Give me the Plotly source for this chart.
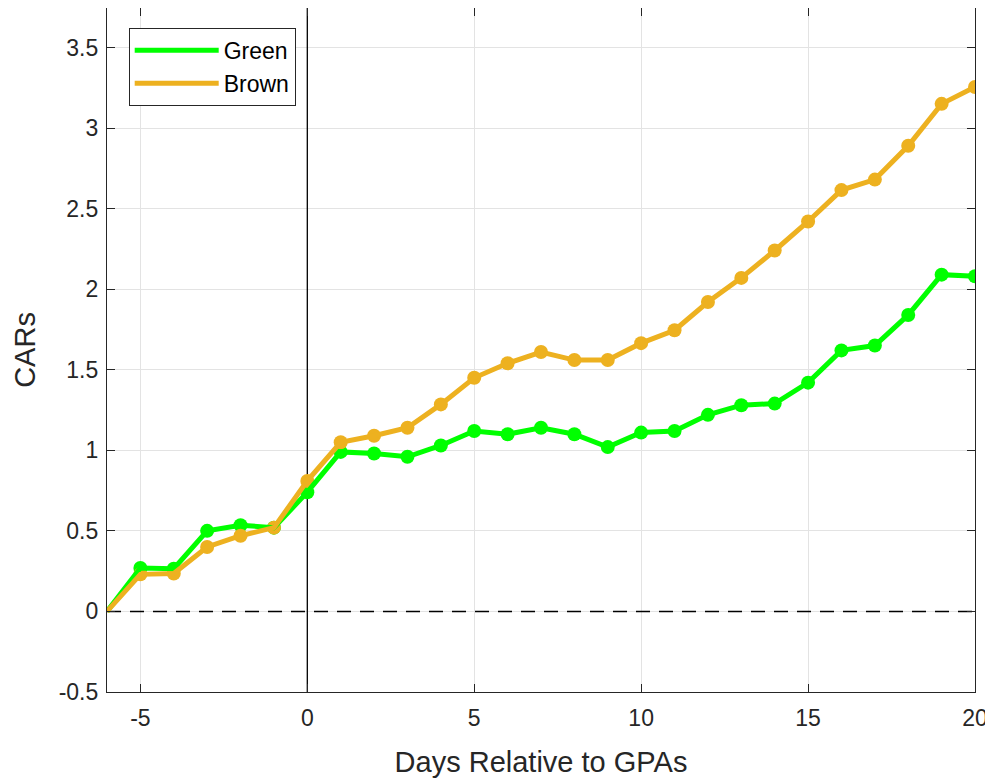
import plotly.graph_objects as go

days = list(range(-6, 21))
green = [0, 0.27, 0.265, 0.50, 0.535, 0.52, 0.74, 0.99, 0.98, 0.96, 1.03, 1.12, 1.10, 1.14,
         1.10, 1.02, 1.11, 1.12, 1.22, 1.28, 1.29, 1.42, 1.62, 1.65, 1.84, 2.09, 2.08]
brown = [0, 0.23, 0.235, 0.40, 0.47, 0.52, 0.81, 1.05, 1.09, 1.14, 1.285, 1.45, 1.54, 1.61,
         1.56, 1.56, 1.665, 1.745, 1.92, 2.07, 2.24, 2.42, 2.615, 2.68, 2.89, 3.15, 3.255]
x_ticks = [-5, 0, 5, 10, 15, 20]
y_ticks = [-0.5, 0, 0.5, 1, 1.5, 2, 2.5, 3, 3.5]
y_tick_labels = ["-0.5", "0", "0.5", "1", "1.5", "2", "2.5", "3", "3.5"]
x_range = [-6, 20]
y_range = [-0.5, 3.745]
event_day = 0
baseline = 0

GREEN = "#00FF00"
BROWN = "#EDB120"
FONT = "Liberation Sans, Arial, sans-serif"
TXT = "#262626"

fig = go.Figure()
# reference lines (drawn first so the data sit on top)
fig.add_trace(go.Scatter(x=[event_day, event_day], y=y_range, mode="lines", showlegend=False,
                         line=dict(color="black", width=1.3), hoverinfo="skip"))
fig.add_trace(go.Scatter(x=x_range, y=[baseline, baseline], mode="lines", showlegend=False,
                         line=dict(color="black", width=1.5, dash="14px,9px"), hoverinfo="skip"))

for name, vals, col in [("Green", green, GREEN), ("Brown", brown, BROWN)]:
    fig.add_trace(go.Scatter(x=days[1:], y=vals[1:], mode="markers", showlegend=False,
                             marker=dict(color=col, size=14), hoverinfo="skip"))
for name, vals, col in [("Green", green, GREEN), ("Brown", brown, BROWN)]:
    fig.add_trace(go.Scatter(x=days, y=vals, mode="lines", name=name,
                             line=dict(color=col, width=5)))

axis_common = dict(showline=True, linecolor=TXT, linewidth=1.2, mirror="ticks",
                   ticks="inside", ticklen=8, tickcolor=TXT, automargin=False,
                   showgrid=True, gridcolor="#e3e3e3", gridwidth=1, zeroline=False,
                   tickfont=dict(family=FONT, size=23, color=TXT))

fig.update_layout(
    width=985, height=770,
    margin=dict(l=99, r=18, t=0, b=86),
    paper_bgcolor="white", plot_bgcolor="white",
    font=dict(family=FONT, color=TXT),
    xaxis=dict(range=x_range, tickvals=x_ticks, ticktext=[str(v) for v in x_ticks],
               ticklabelstandoff=5,
               title=dict(text="Days Relative to GPAs", font=dict(size=29, family=FONT, color=TXT), standoff=24),
               **axis_common),
    yaxis=dict(range=y_range, tickvals=y_ticks, ticktext=y_tick_labels,
               ticklabelstandoff=3,
               title=dict(text="CARs", font=dict(size=29, family=FONT, color=TXT), standoff=14),
               **axis_common),
    legend=dict(x=0.025, y=0.971, xanchor="left", yanchor="top",
                bgcolor="white", bordercolor=TXT, borderwidth=1,
                font=dict(family=FONT, size=23, color="black"),
                itemwidth=84, tracegroupgap=0),
)

fig.write_html("out.html")
